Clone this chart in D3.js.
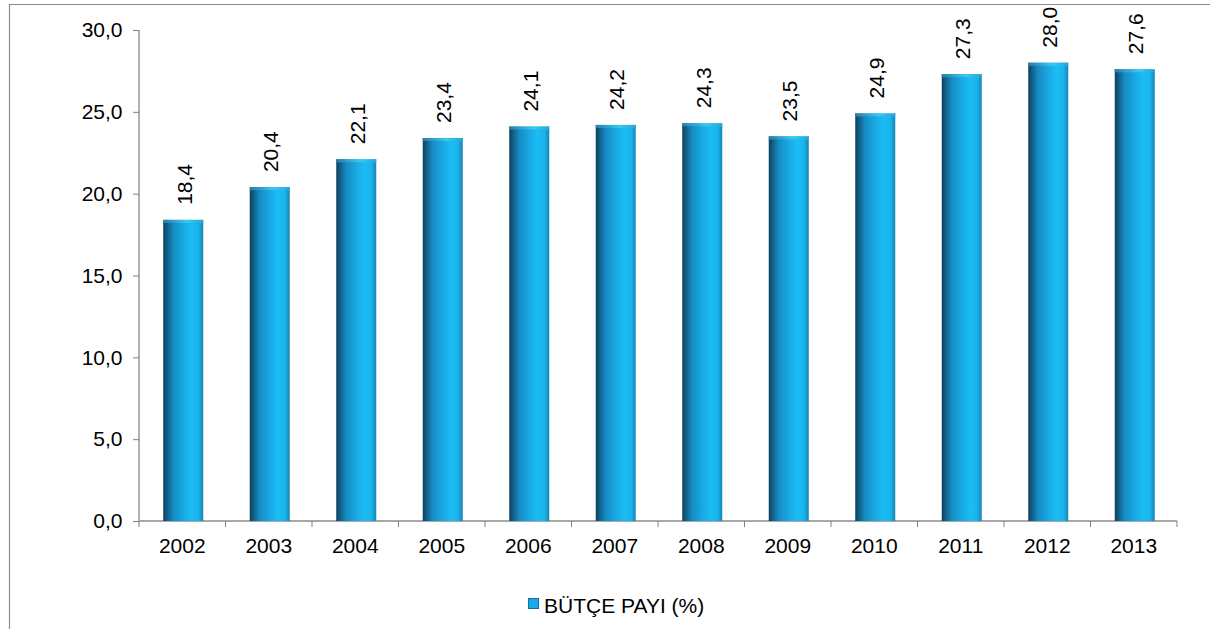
<!DOCTYPE html>
<html>
<head>
<meta charset="utf-8">
<script src="https://cdn.jsdelivr.net/npm/d3@7/dist/d3.min.js"></script>
<style>
  html, body { margin: 0; padding: 0; background: #ffffff; }
  svg { display: block; font-family: "Liberation Sans", Arial, sans-serif; }
</style>
</head>
<body>
<svg id="chart" width="1210" height="629"></svg>
<script>
// Budget share by year (%)
const years = ["2002","2003","2004","2005","2006","2007","2008","2009","2010","2011","2012","2013"];
const budgetShare = [18.4, 20.4, 22.1, 23.4, 24.1, 24.2, 24.3, 23.5, 24.9, 27.3, 28.0, 27.6];
const yTicks = [0, 5, 10, 15, 20, 25, 30];
const legendLabel = "BÜTÇE PAYI (%)";

const svg = d3.select("#chart");
const fmt = v => d3.format(".1f")(v).replace(".", ",");
const FONT = 21;

const plot = { left: 139, right: 1177, top: 30, bottom: 521 };

const x = d3.scaleBand().domain(years).range([plot.left, plot.right]).paddingInner(0).paddingOuter(0);
const y = d3.scaleLinear().domain([0, 30]).range([plot.bottom, plot.top]);

// Outer chart frame (top and left edges visible)
svg.append("path")
  .attr("d", "M9.5,629 L9.5,4.5 L1210,4.5")
  .attr("fill", "none").attr("stroke", "#8c8c8c").attr("stroke-width", 1.2);

// Bar gradient: dark left edge to bright cyan, slight darkening on the right
const defs = svg.append("defs");
const grad = defs.append("linearGradient").attr("id", "barGrad")
  .attr("x1", "0%").attr("x2", "100%").attr("y1", "0%").attr("y2", "0%");
[["0%", "#0e3f5c"], ["8%", "#125a80"], ["25%", "#168cc4"], ["50%", "#19a8e2"], ["70%", "#1bbcf4"], ["88%", "#1ab4ec"], ["100%", "#1684b4"]]
  .forEach(([o, c]) => grad.append("stop").attr("offset", o).attr("stop-color", c));

const capGrad = defs.append("linearGradient").attr("id", "capGrad")
  .attr("x1", "0%").attr("x2", "100%");
[["0%", "#2a7fa8"], ["60%", "#38c8f4"], ["100%", "#2aa6d4"]]
  .forEach(([o, c]) => capGrad.append("stop").attr("offset", o).attr("stop-color", c));

// Y axis line
svg.append("line")
  .attr("x1", plot.left).attr("x2", plot.left)
  .attr("y1", y(30)).attr("y2", y(0))
  .attr("stroke", "#b0b0b0").attr("stroke-width", 2);

// Y axis ticks and labels
const yAxis = d3.axisLeft(y).tickValues(yTicks).tickSize(6).tickPadding(10.5).tickFormat(fmt);
const gy = svg.append("g").attr("transform", `translate(${plot.left},0)`).call(yAxis);
gy.select(".domain").remove();
gy.selectAll(".tick line").attr("stroke", "#808080");
gy.selectAll(".tick text").attr("font-size", FONT).attr("fill", "#000")
  .attr("font-family", "Liberation Sans, Arial, sans-serif");

// Floor / X axis
svg.append("line")
  .attr("x1", plot.left).attr("x2", plot.right)
  .attr("y1", y(0)).attr("y2", y(0))
  .attr("stroke", "#a8a8a8").attr("stroke-width", 2);

const xAxis = d3.axisBottom(x).tickSize(0).tickPadding(17);
const gx = svg.append("g").attr("transform", `translate(0,${plot.bottom})`).call(xAxis);
gx.select(".domain").remove();
gx.selectAll(".tick text").attr("font-size", FONT).attr("fill", "#000")
  .attr("font-family", "Liberation Sans, Arial, sans-serif");

// Category boundary tick marks
const bounds = years.map(d => x(d)).concat([plot.right]);
svg.append("g").selectAll("line").data(bounds).join("line")
  .attr("x1", d => d).attr("x2", d => d)
  .attr("y1", plot.bottom).attr("y2", plot.bottom + 6)
  .attr("stroke", "#808080").attr("stroke-width", 1);

// Bars
const barW = 40;
const barX = d => x(d.yr) + x.bandwidth() / 2 - barW / 2 + 1;
const bars = svg.append("g");
const data = years.map((yr, i) => ({ yr, v: budgetShare[i] }));
bars.selectAll("rect.bar").data(data).join("rect")
  .attr("class", "bar")
  .attr("x", barX)
  .attr("y", d => y(d.v))
  .attr("width", barW)
  .attr("height", d => y(0) - y(d.v))
  .attr("fill", "url(#barGrad)");
bars.selectAll("rect.cap").data(data).join("rect")
  .attr("class", "cap")
  .attr("x", barX)
  .attr("y", d => y(d.v))
  .attr("width", barW)
  .attr("height", 3)
  .attr("fill", "url(#capGrad)");

// Value labels, rotated
svg.append("g").selectAll("text").data(data).join("text")
  .attr("transform", d => `translate(${x(d.yr) + x.bandwidth() / 2 + 9.5},${y(d.v) - 15}) rotate(-90)`)
  .attr("text-anchor", "start")
  .attr("font-size", FONT).attr("fill", "#000")
  .text(d => fmt(d.v));

// Legend
const legend = svg.append("g").attr("transform", "translate(528,598)");
legend.append("rect").attr("x", 0.5).attr("y", 0.5).attr("width", 10).attr("height", 10)
  .attr("fill", "#1aa9e8").attr("stroke", "#1a6f99").attr("stroke-width", 1);
legend.append("text").attr("x", 16).attr("y", 15)
  .attr("font-size", FONT).attr("fill", "#000").text(legendLabel);
</script>
</body>
</html>
